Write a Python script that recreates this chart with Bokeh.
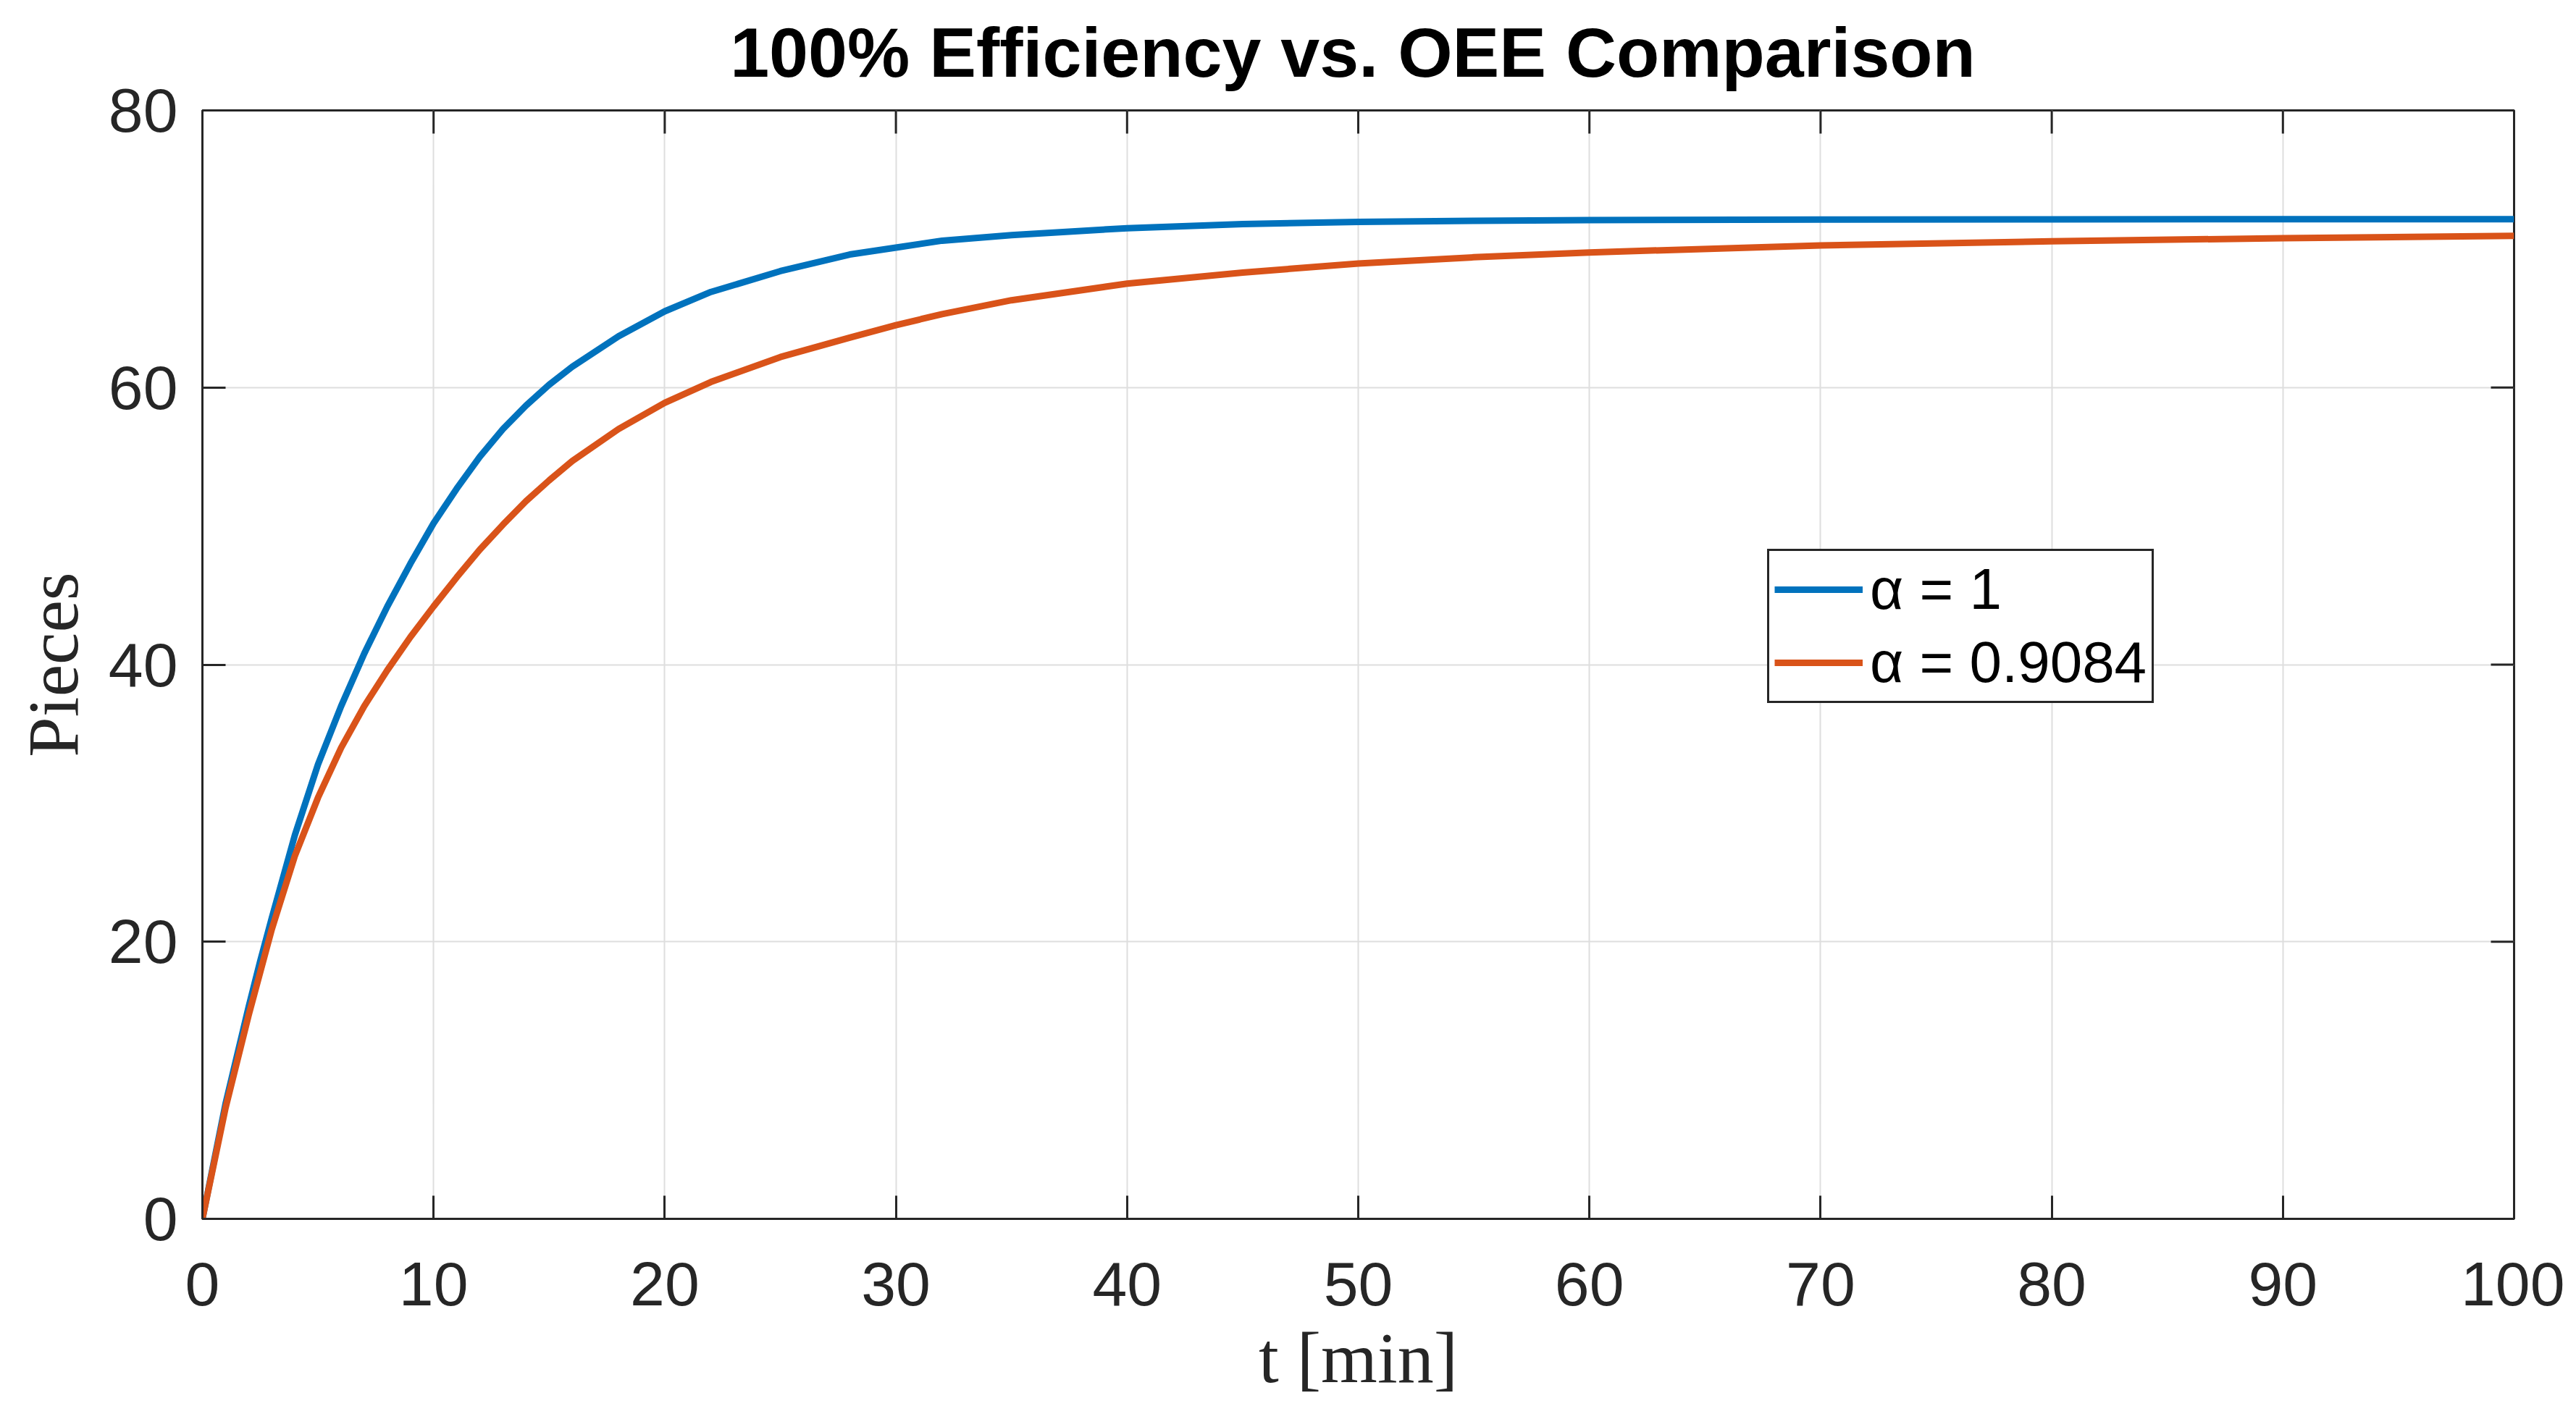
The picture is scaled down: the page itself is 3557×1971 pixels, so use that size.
import math
from bokeh.plotting import figure
from bokeh.models import (Range1d, FixedTicker, Legend, LegendItem,
                          ColumnDataSource, Div)
from bokeh.layouts import column
from bokeh.embed import file_html
from bokeh.resources import INLINE

# ---- data ----
t_min = [0, 1, 2, 2.5, 3, 4, 5, 6, 7, 8, 9, 10, 11, 12, 13, 14, 15, 16, 18, 20,
         22, 25, 28, 30, 32, 35, 40, 45, 50, 55, 60, 70, 80, 90, 100]
pieces_alpha_1 = [0, 8.3, 15.3, 18.6, 21.7, 27.7, 32.8, 37.0, 40.8, 44.2, 47.3,
                  50.2, 52.7, 55.0, 57.0, 58.7, 60.2, 61.5, 63.7, 65.5, 66.9,
                  68.4, 69.6, 70.1, 70.6, 71.0, 71.5, 71.8, 71.95, 72.03, 72.08,
                  72.12, 72.14, 72.15, 72.15]
pieces_alpha_09084 = [0, 8.0, 14.7, 17.8, 20.9, 26.2, 30.4, 34.0, 37.0, 39.6,
                      42.0, 44.2, 46.3, 48.3, 50.1, 51.8, 53.3, 54.7, 57.0, 58.9,
                      60.4, 62.2, 63.6, 64.5, 65.3, 66.3, 67.5, 68.3, 68.95,
                      69.4, 69.75, 70.25, 70.55, 70.78, 70.95]
series_labels = ["\u03b1 = 1", "\u03b1 = 0.9084"]
x_ticks = [0, 10, 20, 30, 40, 50, 60, 70, 80, 90, 100]
y_ticks = [0, 20, 40, 60, 80]

title_text = "100% Efficiency vs. OEE Comparison"
x_label = "t [min]"
y_label = "Pieces"

BLUE = "#0072BD"
ORANGE = "#D95319"
AXIS_COLOR = "#262626"

src = ColumnDataSource(dict(t=t_min, a1=pieces_alpha_1, a2=pieces_alpha_09084))

# the figure overlaps the lower part of the title block (transparent border)
# so that the top tick label "80" has room and is not pushed down
p = figure(width=3541, height=1871, output_backend="svg", toolbar_location=None,
           title=None,
           x_range=Range1d(0, 100), y_range=Range1d(0, 80),
           min_border_left=279, min_border_right=70,
           min_border_top=68, min_border_bottom=272,
           margin=(-60, 0, 0, 0))
p.border_fill_color = None
p.background_fill_color = "white"

p.outline_line_color = AXIS_COLOR
p.outline_line_width = 3
p.outline_line_alpha = 1.0

# grid
p.xgrid.ticker = FixedTicker(ticks=x_ticks)
p.ygrid.ticker = FixedTicker(ticks=y_ticks)
for g in (p.xgrid, p.ygrid):
    g.grid_line_color = "#dedede"
    g.grid_line_width = 2

# main axes
xa = p.xaxis[0]
ya = p.yaxis[0]
xa.ticker = FixedTicker(ticks=x_ticks)
ya.ticker = FixedTicker(ticks=y_ticks)
for ax in (xa, ya):
    ax.axis_line_color = AXIS_COLOR
    ax.axis_line_width = 3
    ax.major_tick_line_color = AXIS_COLOR
    ax.major_tick_line_width = 3
    ax.major_tick_in = 32
    ax.major_tick_out = 0
    ax.minor_tick_line_color = None
    ax.major_label_text_font = "Liberation Sans"
    ax.major_label_text_font_size = "86px"
    ax.major_label_text_color = AXIS_COLOR
    ax.axis_label_text_font = "Liberation Serif"
    ax.axis_label_text_font_style = "normal"
    ax.axis_label_text_font_size = "100px"
    ax.axis_label_text_color = AXIS_COLOR
xa.axis_label = x_label
ya.axis_label = y_label
xa.major_label_standoff = 60
ya.major_label_standoff = 34
xa.axis_label_standoff = 14
ya.axis_label_standoff = 18

# mirrored inward tick marks on top and right edges (box style)
top_y = [y_ticks[-1]] * len(x_ticks)
right_x = [x_ticks[-1]] * len(y_ticks)
p.ray(x=x_ticks, y=top_y, length=32, length_units="screen",
      angle=-math.pi / 2, line_color=AXIS_COLOR, line_width=3)
p.ray(x=right_x, y=y_ticks, length=32, length_units="screen",
      angle=math.pi, line_color=AXIS_COLOR, line_width=3)

r1 = p.line("t", "a1", source=src, line_color=BLUE, line_width=9,
            line_join="round")
r2 = p.line("t", "a2", source=src, line_color=ORANGE, line_width=9,
            line_join="round")

legend = Legend(items=[LegendItem(label=series_labels[0], renderers=[r1]),
                       LegendItem(label=series_labels[1], renderers=[r2])],
                location=(2161, 712))
legend.label_text_font = "Liberation Sans"
legend.label_text_font_size = "80px"
legend.label_text_color = "black"
legend.glyph_width = 122
legend.glyph_height = 90
legend.label_height = 90
legend.label_standoff = 10
legend.spacing = 9
legend.padding = 7
legend.border_line_color = AXIS_COLOR
legend.border_line_width = 3
legend.border_line_alpha = 1.0
legend.background_fill_alpha = 1.0
p.add_layout(legend, "center")

# chart title (HTML text), centred above the axes box
title_div = Div(
    text=('<div style="width:3541px;box-sizing:border-box;'
          'font-family:\'Liberation Sans\',Arial,sans-serif;'
          'font-weight:bold;font-size:97px;line-height:100px;color:#000;'
          'text-align:center;white-space:nowrap;padding-top:23px;'
          'padding-left:195px;">' + title_text + '</div>'),
    width=3541, height=144, margin=0)

layout = column(title_div, p, spacing=0)

open("out.html", "w").write(file_html(layout, INLINE))
